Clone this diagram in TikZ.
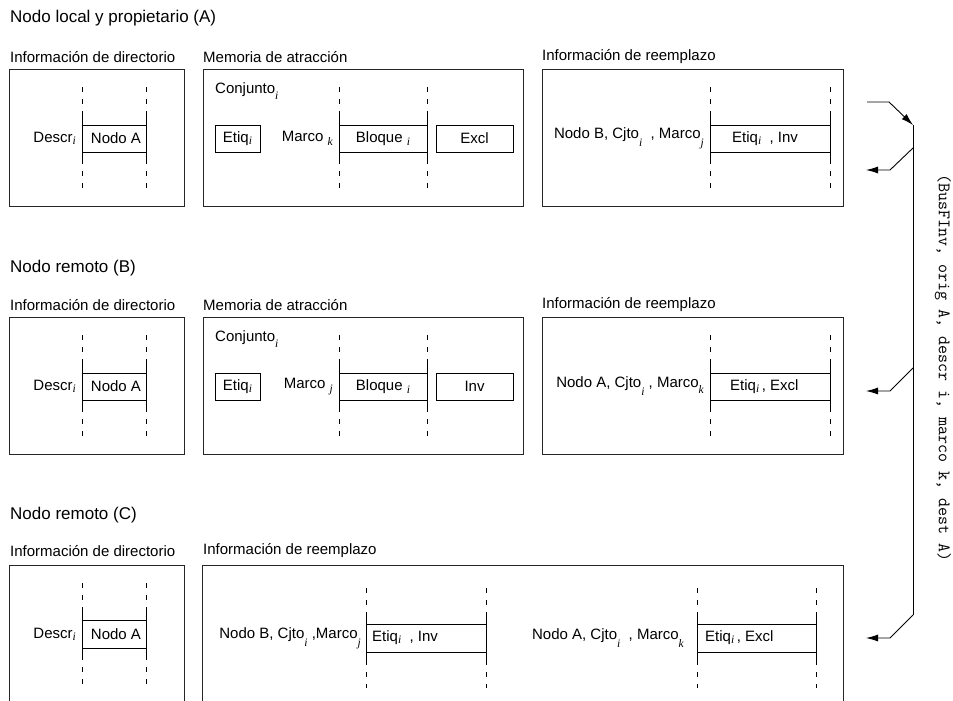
\documentclass[tikz,border=0pt]{standalone}
\usepackage{fontspec}
\setmainfont{Liberation Sans}
\newfontfamily\subfont{Liberation Serif}
\usetikzlibrary{arrows.meta}
\newcommand{\sbs}[2][2pt]{\raisebox{-#1}{\fontsize{11.5}{11.5}\selectfont\subfont\itshape #2}}
\tikzset{
  outer/.style={draw=black!85, line width=0.8pt},
  dashline/.style={draw=black, line width=0.6pt, dash pattern=on 5pt off 7pt},
  solidline/.style={draw=black, line width=0.8pt},
  inbox/.style={draw=black, line width=0.8pt, inner sep=0pt, minimum height=27pt},
  txt/.style={inner sep=0pt, font=\fontsize{15}{15}\selectfont},
  lbl/.style={inner sep=0pt, anchor=west, font=\fontsize{15}{15}\selectfont},
  ttl/.style={inner sep=0pt, anchor=west, font=\fontsize{17}{17}\selectfont},
  conn/.style={draw=black, line width=0.9pt},
  arr/.style={conn, -{Latex[length=12pt,width=7pt]}},
}
% #1 x1, #2 x2, #3 box top, #4 box bottom, #5 dash top, #6 dash bottom
\newcommand{\cols}[6]{%
  \draw[dashline] (#1,#5) -- (#1,#6);
  \draw[dashline] (#2,#5) -- (#2,#6);
  \draw[solidline] (#1,#3-11) -- (#1,#4+9);
  \draw[solidline] (#2,#3-11) -- (#2,#4+9);
}
\begin{document}
\begin{tikzpicture}[x=1pt,y=-1pt]
\useasboundingbox (0,0) rectangle (953,701);
\fill[white] (0,0) rectangle (953,701);

% ---------------- Section A ----------------
\node[ttl] (tA) at (10,18) {Nodo local y propietario (A)};
\node[lbl] (lA1) at (10,57) {Información de directorio};
\node[lbl] (lA2) at (203,57) {Memoria de atracción};
\node[lbl] (lA3) at (542,57) {Información de reemplazo};
\draw[outer] (9,69) rectangle (184,206);
\draw[outer] (203,69) rectangle (523,206);
\draw[outer] (542,69) rectangle (843,206);
% directory
\cols{82}{146}{125}{152}{87}{188}
\node[inbox, minimum width=64pt] (dirA) at (114,138.5) {};
\node[txt] (dirAt) at (116,138.5) {Nodo A};
\node[txt, anchor=east] (descrA) at (76,138.5) {Descr\sbs{i}};
% memoria
\node[txt, anchor=west] (conjA) at (215,91) {Conjunto\sbs[6pt]{i}};
\node[inbox, minimum width=45pt] (etiqA) at (237.5,138.5) {};
\node[txt] (etiqAt) at (237.5,138.5) {Etiq\sbs{i}};
\node[txt, anchor=east] (marcoA) at (333,138.5) {Marco \sbs[4pt]{k}};
\cols{339}{427}{125}{152}{87}{188}
\node[inbox, minimum width=88pt] (bloqA) at (383,138.5) {};
\node[txt] (bloqAt) at (383,138.5) {Bloque \sbs[3pt]{i}};
\node[inbox, minimum width=77pt] (exclA) at (474.5,138.5) {};
\node[txt] (exclAt) at (474.5,138.5) {Excl};
% reemplazo
\node[txt, anchor=east] (repA) at (704,138.5) {Nodo B, Cjto\sbs[8pt]{i}\ \ , Marco\sbs[8pt]{j}};
\cols{710}{830}{125}{152}{87}{188}
\node[inbox, minimum width=120pt] (etA) at (770,138.5) {};
\node[txt, anchor=west] (etAt) at (732,138.5) {Etiq\sbs{i}\ \ , Inv};

% ---------------- Section B ----------------
\node[ttl] (tB) at (10,268) {Nodo remoto (B)};
\node[lbl] (lB1) at (10,305) {Información de directorio};
\node[lbl] (lB2) at (203,305) {Memoria de atracción};
\node[lbl] (lB3) at (542,305) {Información de reemplazo};
\draw[outer] (9,317) rectangle (184,454);
\draw[outer] (203,317) rectangle (523,454);
\draw[outer] (542,317) rectangle (843,454);
\cols{82}{146}{373}{400}{335}{436}
\node[inbox, minimum width=64pt] (dirB) at (114,386.5) {};
\node[txt] (dirBt) at (116,386.5) {Nodo A};
\node[txt, anchor=east] (descrB) at (76,386.5) {Descr\sbs{i}};
\node[txt, anchor=west] (conjB) at (215,339) {Conjunto\sbs[6pt]{i}};
\node[inbox, minimum width=45pt] (etiqB) at (237.5,386.5) {};
\node[txt] (etiqBt) at (237.5,386.5) {Etiq\sbs{i}};
\node[txt, anchor=east] (marcoB) at (333,386.5) {Marco \sbs[4pt]{j}};
\cols{339}{427}{373}{400}{335}{436}
\node[inbox, minimum width=88pt] (bloqB) at (383,386.5) {};
\node[txt] (bloqBt) at (383,386.5) {Bloque \sbs[3pt]{i}};
\node[inbox, minimum width=77pt] (invB) at (474.5,386.5) {};
\node[txt] (invBt) at (474.5,386.5) {Inv};
\node[txt, anchor=east] (repB) at (704,386.5) {Nodo A, Cjto\sbs[8pt]{i}\ , Marco\sbs[6pt]{k}};
\cols{710}{830}{373}{400}{335}{436}
\node[inbox, minimum width=120pt] (etB) at (770,386.5) {};
\node[txt, anchor=west] (etBt) at (730,386.5) {Etiq\sbs{i}\,, Excl};

% ---------------- Section C ----------------
\node[ttl] (tC) at (10,515) {Nodo remoto (C)};
\node[lbl] (lC1) at (10,551) {Información de directorio};
\node[lbl] (lC2) at (203,551) {Información de reemplazo};
\draw[outer] (9,702) -- (9,565) -- (184,565) -- (184,702);
\draw[outer] (202,702) -- (202,565) -- (843,565) -- (843,702);
\cols{82}{146}{620}{648}{583}{684}
\node[inbox, minimum width=64pt, minimum height=28pt] (dirC) at (114,634) {};
\node[txt] (dirCt) at (116,634) {Nodo A};
\node[txt, anchor=east] (descrC) at (76,634) {Descr\sbs{i}};
\node[txt, anchor=east] (repC1) at (361,638) {Nodo B, Cjto\sbs[8pt]{i}\ ,Marco\sbs[8pt]{j}};
\cols{366}{486}{624}{652}{588}{688}
\node[inbox, minimum width=120pt, minimum height=28pt] (etC1) at (426,638) {};
\node[txt, anchor=west] (etC1t) at (372,638) {Etiq\sbs{i}\ \ , Inv};
\node[txt, anchor=east] (repC2) at (684,638) {Nodo A, Cjto\sbs[8pt]{i}\ \ , Marco\sbs[8pt]{k}};
\cols{697}{816}{624}{652}{588}{688}
\node[inbox, minimum width=119pt, minimum height=28pt] (etC2) at (756.5,638) {};
\node[txt, anchor=west] (etC2t) at (705,638) {Etiq\sbs{i}\,, Excl};

% ---------------- Bus ----------------
\coordinate (in0) at (867,102);
\coordinate (in1) at (889,102);
\coordinate (vtop) at (913,125);
\coordinate (v1) at (913,148);
\coordinate (v2) at (913,368);
\coordinate (vbot) at (913,615);
\draw[arr] (in0) -- (in1) -- (vtop);
\draw[conn] (vtop) -- (vbot);
\draw[arr] (v1) -- (890,170) -- (866,170);
\draw[arr] (v2) -- (890,391) -- (866,391);
\draw[arr] (vbot) -- (890,638) -- (866,638);
\node[inner sep=0pt, rotate=-90, font=\ttfamily\fontsize{17.5}{17.5}\selectfont] (msg) at (943,368) {(BusFInv, orig A, descr i, marco k, dest A)};
\end{tikzpicture}
\end{document}
